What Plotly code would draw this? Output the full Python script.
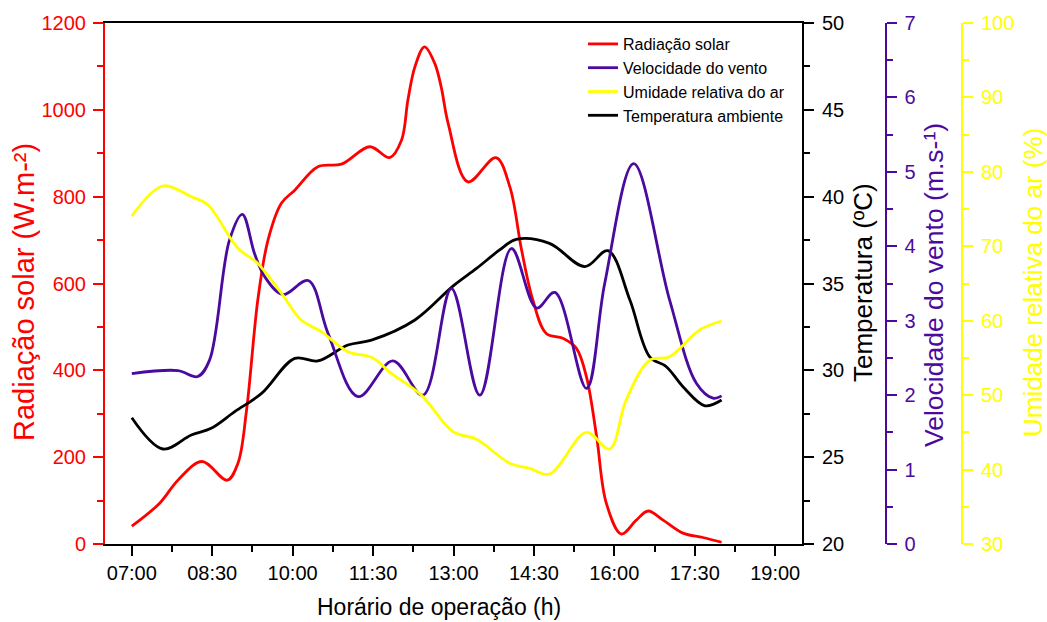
import plotly.graph_objects as go

# ---- data (time in decimal hours) ----
rad_t = [7.0, 7.52, 7.86, 8.31, 8.78, 8.98, 9.14, 9.35, 9.54, 9.79, 10.04, 10.47, 10.91, 11.44, 11.81,
         12.03, 12.15, 12.28, 12.46, 12.65, 12.77, 12.9, 13.27, 13.79, 14.05, 14.27, 14.48, 14.73, 15.04,
         15.29, 15.48, 15.67, 15.85, 16.13, 16.41, 16.63, 16.91, 17.28, 17.65, 18.0]
rad = [41, 94, 147, 190, 147, 186, 308, 562, 700, 785, 815, 869, 875, 915, 890,
       930, 1023, 1099, 1145, 1107, 1053, 969, 834, 890, 823, 677, 562, 485, 474,
       451, 385, 247, 94, 23, 55, 76, 55, 25, 15, 4]

wind_t = [7.0, 7.86, 8.23, 8.45, 8.82, 9.06, 9.29, 9.48, 9.82, 10.29, 10.66, 11.22, 11.87, 12.43,
          12.96, 13.49, 14.08, 14.55, 14.89, 15.48, 15.82, 16.36, 17.03, 17.53, 17.84, 18.0]
wind = [2.29, 2.33, 2.25, 2.47, 4.08, 4.43, 3.9, 3.59, 3.35, 3.54, 2.83, 1.98, 2.46, 2.00,
        3.43, 2.00, 3.97, 3.17, 3.38, 2.09, 3.5, 5.11, 3.28, 2.16, 1.96, 1.99]

hum_t = [7.0, 7.58, 8.11, 8.42, 8.98, 9.35, 9.79, 10.16, 10.54, 11.03, 11.47, 11.84, 12.4, 12.99,
         13.43, 14.05, 14.42, 14.79, 15.48, 15.91, 16.22, 16.66, 17.03, 17.59, 18.0]
hum = [74.07, 78.1, 76.66, 75.55, 69.73, 67.7, 63.7, 60.1, 58.5, 55.84, 55.08, 52.93, 50.0, 45.1,
       44.07, 40.84, 40.17, 39.4, 45.0, 42.76, 49.35, 54.7, 55.17, 58.75, 59.96]

temp_t = [7.0, 7.58, 8.11, 8.48, 8.92, 9.42, 10.04, 10.47, 11.03, 11.47, 12.28, 12.99, 13.43, 13.86,
          14.17, 14.79, 15.45, 15.88, 16.29, 16.66, 16.97, 17.28, 17.69, 18.0]
temp = [27.27, 25.47, 26.28, 26.66, 27.62, 28.67, 30.69, 30.54, 31.46, 31.74, 32.9, 34.85, 35.87, 36.93,
        37.54, 37.31, 35.97, 36.89, 34.05, 30.78, 30.21, 29.06, 27.96, 28.29]

x_tickvals = [7.0, 8.5, 10.0, 11.5, 13.0, 14.5, 16.0, 17.5, 19.0]
x_ticktext = ["07:00", "08:30", "10:00", "11:30", "13:00", "14:30", "16:00", "17:30", "19:00"]

RED = "#FF0000"
PURPLE = "#4B0A9E"
YELLOW = "#FFFF00"
BLACK = "#000000"
FONT = "Liberation Sans, Arial, sans-serif"
W, H = 1047, 622

fig = go.Figure()
lw = 2.8
fig.add_trace(go.Scatter(x=rad_t, y=rad, name="Radiação solar", mode="lines",
                         line=dict(color=RED, width=lw, shape="spline"), yaxis="y"))
fig.add_trace(go.Scatter(x=wind_t, y=wind, name="Velocidade do vento", mode="lines",
                         line=dict(color=PURPLE, width=lw, shape="spline"), yaxis="y3"))
fig.add_trace(go.Scatter(x=hum_t, y=hum, name="Umidade relativa do ar", mode="lines",
                         line=dict(color=YELLOW, width=lw, shape="spline"), yaxis="y4"))
fig.add_trace(go.Scatter(x=temp_t, y=temp, name="Temperatura ambiente", mode="lines",
                         line=dict(color=BLACK, width=lw, shape="spline"), yaxis="y2"))

x0, x1 = 105 / W, 802 / W
yb, yt = 1 - 544 / H, 1 - 23 / H
tickfont = 20


def yax(color, rng, dtick, mdtick, standoff, **kw):
    d = dict(range=rng, dtick=dtick, tick0=rng[0], tickmode="linear",
             showline=True, linecolor=color, linewidth=2,
             ticks="outside", ticklen=10, tickwidth=2, tickcolor=color,
             tickfont=dict(color=color, size=tickfont, family=FONT),
             ticklabelstandoff=standoff,
             minor=dict(dtick=mdtick, tick0=rng[0], ticks="outside", ticklen=6,
                        tickwidth=2, tickcolor=color, showgrid=False),
             showgrid=False, zeroline=False, domain=[yb, yt], automargin=False)
    d.update(kw)
    return d


fig.update_layout(
    width=W, height=H, autosize=False,
    margin=dict(l=0, r=0, t=0, b=0),
    paper_bgcolor="white", plot_bgcolor="white",
    font=dict(family=FONT, color=BLACK),
    showlegend=True,
    legend=dict(x=583 / W, y=1 - 27 / H, xanchor="left", yanchor="top",
                bgcolor="rgba(0,0,0,0)", borderwidth=0,
                font=dict(size=16, family=FONT, color=BLACK),
                tracegroupgap=0, itemwidth=30),
    xaxis=dict(domain=[x0, x1], range=[6.5, 19.5], tickmode="array",
               tickvals=x_tickvals, ticktext=x_ticktext,
               showline=True, linecolor=BLACK, linewidth=2, mirror=True,
               ticks="outside", ticklen=10, tickwidth=2, tickcolor=BLACK,
               tickfont=dict(size=tickfont, family=FONT, color=BLACK),
               ticklabelstandoff=0,
               minor=dict(tickmode="linear", tick0=7.0, dtick=0.75, ticks="outside",
                          ticklen=6, tickwidth=2, tickcolor=BLACK, showgrid=False),
               showgrid=False, zeroline=False, automargin=False),
    yaxis=yax(RED, [0, 1200], 200, 100, 3, side="left", anchor="x"),
    yaxis2=yax(BLACK, [20, 50], 5, 2.5, 4, side="right", anchor="x", overlaying="y"),
    yaxis3=yax(PURPLE, [0, 7], 1, 0.5, 4, side="right", anchor="free",
               position=885.5 / W, overlaying="y"),
    yaxis4=yax(YELLOW, [30, 100], 10, 5, 4, side="right", anchor="free",
               position=962 / W, overlaying="y"),
)

ann = [
    dict(text="Horário de operação (h)", x=439 / W, y=1 - 607 / H, color=BLACK, angle=0, size=23),
    dict(text="Radiação solar (W.m-²)", x=24 / W, y=1 - 292 / H, color=RED, angle=-90, size=29),
    dict(text="Temperatura (ºC)", x=863 / W, y=1 - 283 / H, color=BLACK, angle=-90, size=26),
    dict(text="Velocidade do vento (m.s-¹)", x=934 / W, y=1 - 285 / H, color=PURPLE, angle=-90, size=26.5),
    dict(text="Umidade relativa do ar (%)", x=1033 / W, y=1 - 283 / H, color=YELLOW, angle=-90, size=26),
]
for a in ann:
    fig.add_annotation(text=a["text"], x=a["x"], y=a["y"], xref="paper", yref="paper",
                       xanchor="center", yanchor="middle", showarrow=False,
                       textangle=a["angle"],
                       font=dict(size=a["size"], color=a["color"], family=FONT))

fig.write_html("out.html")
